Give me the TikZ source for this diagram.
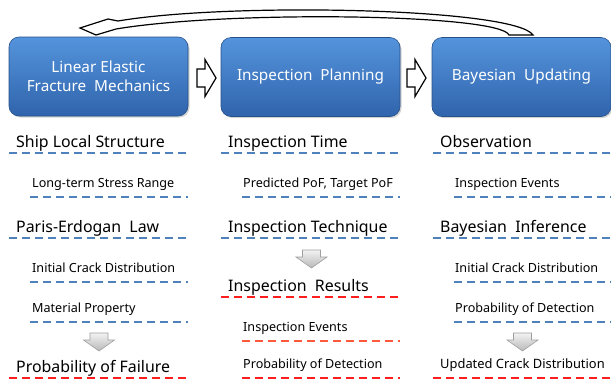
\documentclass[tikz,border=0pt]{standalone}
\usepackage{fontspec}
\setmainfont{Noto Sans}
\usetikzlibrary{shadows}
\definecolor{boxtop}{RGB}{84,148,220}
\definecolor{boxbot}{RGB}{48,100,172}
\definecolor{dashblue}{RGB}{79,129,189}
\definecolor{dashred}{RGB}{255,30,30}
\definecolor{dashorange}{RGB}{255,90,60}
\tikzset{
  bigbox/.style={rounded corners=10pt, top color=boxtop, bottom color=boxbot, draw=boxbot!80!black, line width=0.6pt,
    minimum width=179pt, minimum height=79pt, text=white, align=center,
    font=\fontsize{15.3}{19.5}\selectfont, drop shadow={opacity=0.35, shadow xshift=1.5pt, shadow yshift=-1.5pt}},
  head/.style={anchor=base west, inner sep=0pt, font=\fontsize{15.9}{18}\selectfont},
  sub/.style={anchor=base west, inner sep=0pt, font=\fontsize{12.6}{15}\selectfont},
  bline/.style={draw=dashblue, line width=1.4pt, dash pattern=on 8pt off 5pt},
  rline/.style={draw=dashred, line width=1.4pt, dash pattern=on 8pt off 5pt},
  oline/.style={draw=dashorange, line width=1.4pt, dash pattern=on 8pt off 5pt},
  downarr/.pic={\path[draw=gray!75, line width=0.6pt, top color=gray!10, bottom color=gray!55]
      (-9,0) -- (9,0) -- (9,7) -- (15.5,7) -- (0,18) -- (-15.5,7) -- (-9,7) -- cycle;},
  rightarr/.pic={\path[draw=black, line width=1.2pt, fill=white]
      (0,-9) -- (8,-9) -- (8,-18.5) -- (19,0) -- (8,18.5) -- (8,9) -- (0,9) -- cycle;}
}
\begin{document}
\begin{tikzpicture}[x=1pt,y=-1pt]
\useasboundingbox (0,0) rectangle (611,381);
% boxes
\node[bigbox] (lefm) at (98.5,76.5) {Linear Elastic\\Fracture\ \ Mechanics};
\node[bigbox] (plan) at (310.5,77) {Inspection\ \ Planning};
\node[bigbox] (bayes) at (521.5,77) {Bayesian\ \ Updating};
\pic at (197,78) {rightarr};
\pic at (407,78) {rightarr};
% curved feedback arrow
\path[draw=black, line width=1.2pt, fill=white]
  (533,35) .. controls (515,8) and (230,2) .. (118,21)
  -- (108,19) -- (80,28) -- (96,35) -- (116,29)
  .. controls (230,10) and (500,14) .. (509,35) -- cycle;
% column 1
\node[head] (c1a) at (16,147) {Ship\ Local\ Structure};
\draw[bline] (9,153) -- (188,153);
\node[sub] (c1b) at (32,187) {Long-term Stress Range};
\draw[bline] (30,197) -- (188,197);
\node[head] (c1c) at (16,232) {Paris-Erdogan\ \ Law};
\draw[bline] (9,238) -- (188,238);
\node[sub] (c1d) at (32,272) {Initial Crack Distribution};
\draw[bline] (30,282) -- (188,282);
\node[sub] (c1e) at (32,312) {Material Property};
\draw[bline] (30,322) -- (188,322);
\pic at (99,333) {downarr};
\node[head] (c1f) at (16,372) {Probability\ of\ Failure};
\draw[rline] (9,378) -- (188,378);
% column 2
\node[head] (c2a) at (228,147) {Inspection\ Time};
\draw[bline] (221,153) -- (400,153);
\node[sub] (c2b) at (243,187) {Predicted PoF, Target PoF};
\draw[bline] (242,197) -- (400,197);
\node[head] (c2c) at (228,232) {Inspection\ Technique};
\draw[bline] (221,238) -- (400,238);
\pic at (311.5,250) {downarr};
\node[head] (c2d) at (228,291) {Inspection\ \ Results};
\draw[rline] (221,297) -- (400,297);
\node[sub] (c2e) at (243,331) {Inspection Events};
\draw[oline] (242,341) -- (400,341);
\node[sub] (c2f) at (243,368) {Probability of Detection};
\draw[rline] (242,378) -- (400,378);
% column 3
\node[head] (c3a) at (440,147) {Observation};
\draw[bline] (433,153) -- (611,153);
\node[sub] (c3b) at (455,187) {Inspection Events};
\draw[bline] (454,197) -- (611,197);
\node[head] (c3c) at (440,232) {Bayesian\ \ Inference};
\draw[bline] (433,238) -- (611,238);
\node[sub] (c3d) at (455,272) {Initial Crack Distribution};
\draw[bline] (454,282) -- (611,282);
\node[sub] (c3e) at (455,312) {Probability of Detection};
\draw[bline] (454,322) -- (611,322);
\pic at (522.5,333) {downarr};
\node[sub, font=\fontsize{12.9}{16}\selectfont] (c3f) at (440,368) {Updated Crack Distribution};
\draw[rline] (433,378) -- (611,378);
\end{tikzpicture}
\end{document}
